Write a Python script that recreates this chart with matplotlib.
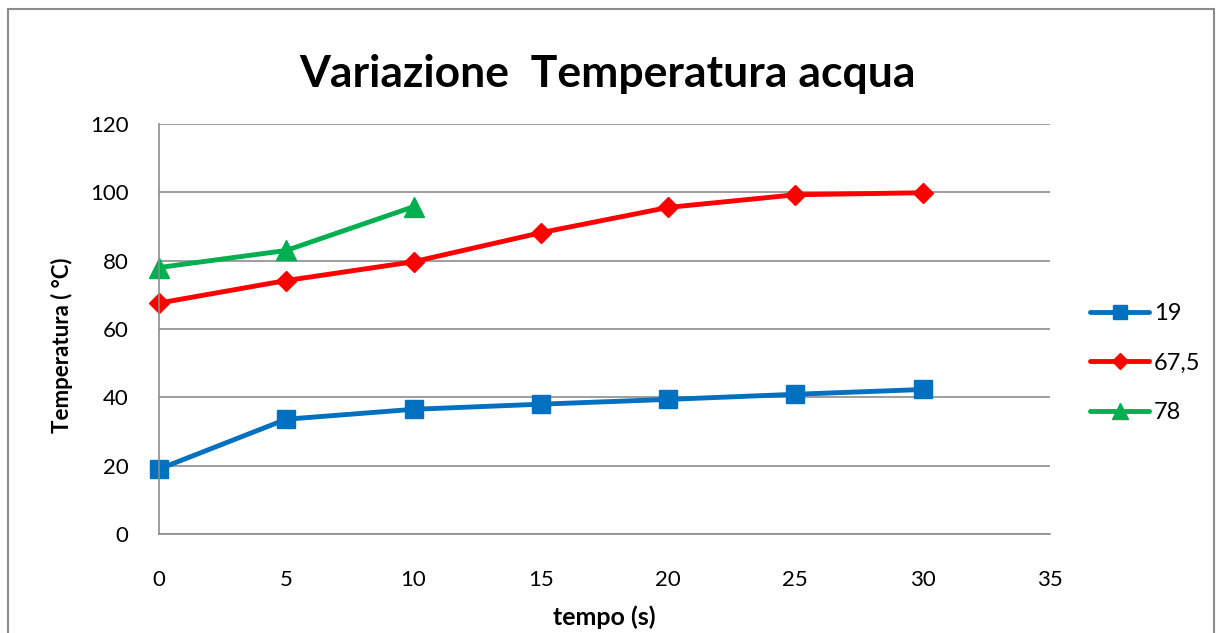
import matplotlib

matplotlib.use("Agg")
import matplotlib.pyplot as plt
import matplotlib.patches as mpatches

plt.rcParams["font.family"] = "Lato"

tempo = [0, 5, 10, 15, 20, 25, 30]
serie_19 = [19, 33.6, 36.5, 38, 39.4, 40.9, 42.3]
serie_675 = [67.6, 74.2, 79.7, 88.2, 95.6, 99.3, 99.9]
tempo_78 = [0, 5, 10]
serie_78 = [78, 83, 95.8]

fig = plt.figure(figsize=(12.18, 6.33), dpi=100)
ax = fig.add_axes([0.1305, 0.1564, 0.7315, 0.6476])

# bordo esterno del grafico
fig.patches.append(
    mpatches.Rectangle((0.0066, -0.01), 0.99, 0.996, transform=fig.transFigure,
                       fill=False, edgecolor="#8c8c8c", linewidth=1.5)
)

ax.plot(tempo, serie_19, color="#0070C0", linewidth=3.5, marker="s",
        markersize=13, label="19", solid_capstyle="round")
ax.plot(tempo, serie_675, color="#FF0000", linewidth=3.5, marker="D",
        markersize=10, label="67,5", solid_capstyle="round")
ax.plot(tempo_78, serie_78, color="#00B050", linewidth=3.5, marker="^",
        markersize=14, label="78", solid_capstyle="round")

ax.set_xlim(0, 35)
ax.set_ylim(0, 120)
ax.set_xticks(range(0, 36, 5))
ax.set_yticks(range(0, 121, 20))
ax.tick_params(axis="both", length=0, labelsize=16)
ax.tick_params(axis="y", pad=22)
ax.tick_params(axis="x", pad=26)
ax.grid(axis="y", color="#8c8c8c", linewidth=1.2)
ax.set_axisbelow(True)
for s in ["top", "right"]:
    ax.spines[s].set_visible(False)
for s in ["left", "bottom"]:
    ax.spines[s].set_color("#8c8c8c")
    ax.spines[s].set_linewidth(1.2)
for line in ax.get_lines():
    line.set_clip_on(False)

ax.set_xlabel("tempo (s)", fontsize=18, fontweight="bold")
ax.xaxis.set_label_coords(0.5, -0.175)
ax.set_ylabel("Temperatura ( °C)", fontsize=16, fontweight="bold")
ax.yaxis.set_label_coords(-0.097, 0.46)
fig.text(0.4985, 1 - 87 / 633, "Variazione  Temperatura acqua", fontsize=32,
         fontweight="bold", ha="center", va="baseline")

ax.legend(loc="center left", bbox_to_anchor=(1.045, 0.417), frameon=False,
          fontsize=17, handlelength=2.5, labelspacing=1.2, handletextpad=0.2,
          borderpad=0, borderaxespad=0, markerscale=0.8)

fig.savefig("out.png", dpi=100)
